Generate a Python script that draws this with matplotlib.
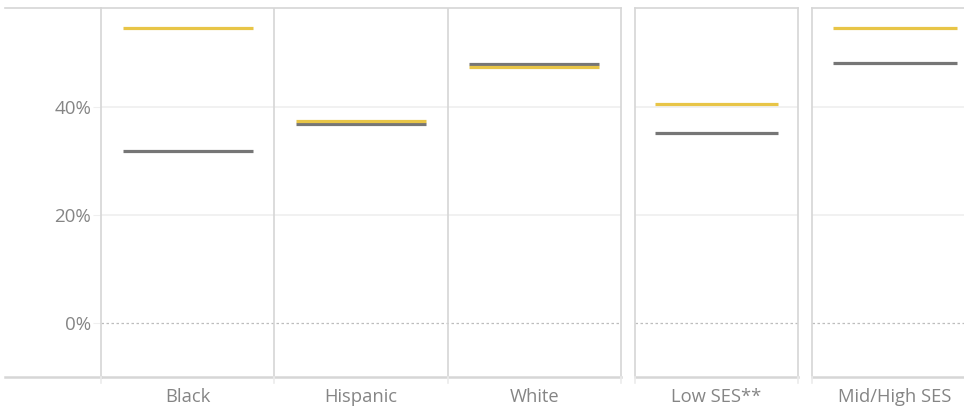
import matplotlib
matplotlib.use("Agg")
import matplotlib.pyplot as plt
from matplotlib.lines import Line2D
from matplotlib.ticker import FuncFormatter

plt.rcParams["font.family"] = ["Open Sans", "DejaVu Sans"]

# data (share, %)
race_groups = ["Black", "Hispanic", "White"]
race_yellow = [54.5, 37.3, 47.3]
race_gray = [31.75, 36.7, 47.8]

ses_groups = ["Low SES**", "Mid/High SES"]
ses_yellow = [40.4, 54.6]
ses_gray = [35.1, 48.0]

YELLOW = "#E8C547"
GRAY = "#767676"
FRAME = "#d6d6d6"
TEXT = "#858585"
YMIN, YMAX = -9.9, 58.2
W, H = 964, 409


def px_rect(x0, x1):
    return [x0 / W, 1 - 377 / H, (x1 - x0) / W, (377 - 8) / H]


def draw_panel(ax, cats, yel, gry, half):
    x = list(range(len(cats)))
    for i in x:
        ax.hlines(gry[i], i - half, i + half, color=GRAY, lw=2.3, zorder=3)
        ax.hlines(yel[i], i - half, i + half, color=YELLOW, lw=2.3, zorder=4)
    ax.set_xlim(-0.5, len(cats) - 0.5)
    ax.set_ylim(YMIN, YMAX)
    for v in (20, 40):
        ax.axhline(v, color="#efefef", lw=1.2, zorder=1)
    ax.axhline(0, color="#bdbdbd", lw=0.9, ls=(0, (2, 2)), zorder=1)
    for i in range(len(cats) - 1):
        ax.axvline(i + 0.5, color=FRAME, lw=1.2, zorder=2)
    for s in ax.spines.values():
        s.set_color(FRAME)
        s.set_linewidth(1.2)
    ax.spines["bottom"].set_linewidth(1.8)
    ax.set_xticks(x)
    ax.set_xticklabels(cats, color=TEXT, fontsize=13.2)
    ax.tick_params(axis="x", length=0, pad=8)
    ax.set_yticks([])


fig = plt.figure(figsize=(W / 100, H / 100), dpi=100)

ax1 = fig.add_axes(px_rect(101, 621))
draw_panel(ax1, race_groups, race_yellow, race_gray, 0.375)
ax1.set_yticks([0, 20, 40])
ax1.yaxis.set_major_formatter(FuncFormatter(lambda v, p: f"{v:.0f}%"))
ax1.tick_params(axis="y", length=6, color="#efefef", labelcolor=TEXT, labelsize=13.5, pad=1)

ax2 = fig.add_axes(px_rect(635, 798))
draw_panel(ax2, ses_groups[:1], ses_yellow[:1], ses_gray[:1], 0.38)

ax3 = fig.add_axes(px_rect(812, 978))
draw_panel(ax3, ses_groups[1:], ses_yellow[1:], ses_gray[1:], 0.373)

# header area lines left of the first panel, and little tick stubs under panels
fig.add_artist(Line2D([5 / W, 101 / W], [1 - 7.5 / H] * 2, color=FRAME, lw=1.2))
fig.add_artist(Line2D([5 / W, 101 / W], [1 - 377 / H] * 2, color=FRAME, lw=1.8))
for xp in (101, 274.3, 447.7, 621, 635, 798, 812):
    fig.add_artist(Line2D([xp / W] * 2, [1 - 377 / H, 1 - 383 / H], color="#ebebeb", lw=1.2))

fig.savefig("out.png", dpi=100)
